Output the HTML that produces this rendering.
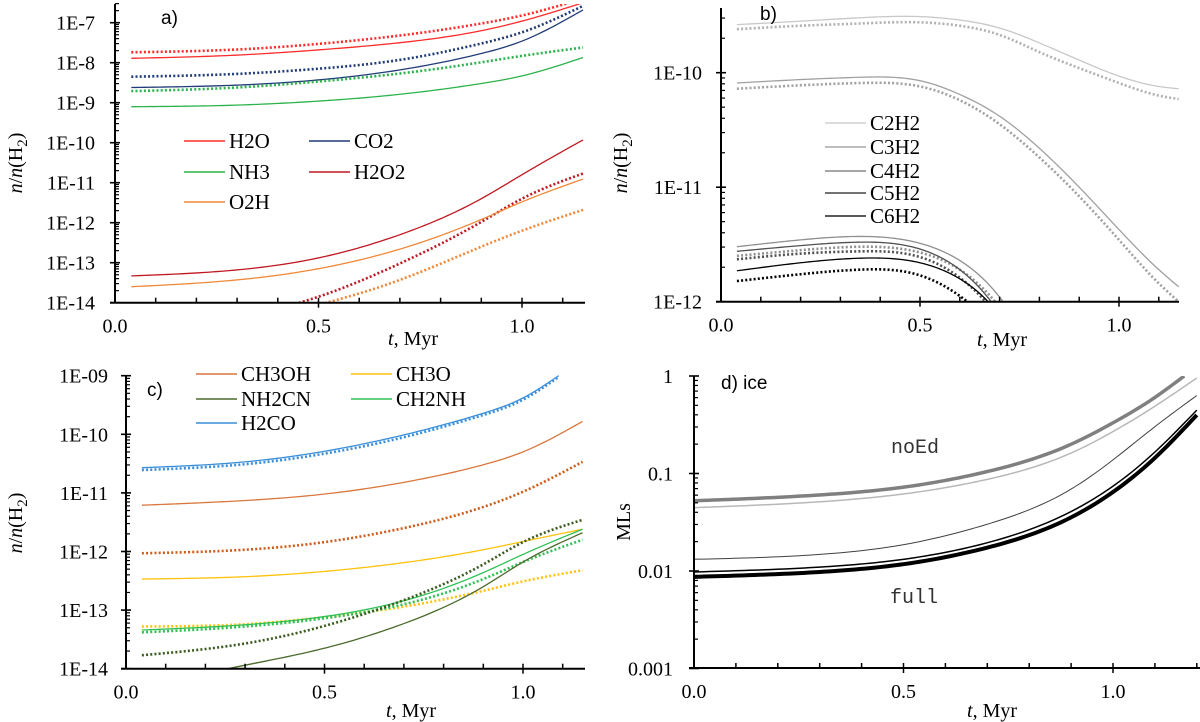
<!DOCTYPE html>
<html><head><meta charset="utf-8">
<style>
html,body{margin:0;padding:0;background:#fff;}
svg{display:block;}
.tk{font-family:"Liberation Serif",serif;font-size:20px;fill:#000;}
.lg{font-family:"Liberation Serif",serif;font-size:21px;fill:#000;}
.pl{font-family:"Liberation Sans",sans-serif;font-size:19px;fill:#000;}
.mono{font-family:"Liberation Mono",monospace;font-size:20px;fill:#333;}
</style></head>
<body>
<svg id="fig" width="1200" height="722" viewBox="0 0 1200 722" xmlns="http://www.w3.org/2000/svg"></svg>
<script>
// ---------- Panel a data (log10 abundance) ----------
const tA = [0.04, 0.3, 0.5, 0.7, 0.9, 1.0, 1.15];
const aH2O = [-7.89, -7.81, -7.68, -7.50, -7.2, -6.96, -6.5];
const aH2Od = [-7.74, -7.67, -7.53, -7.32, -7.02, -6.82, -6.4];
const aCO2 = [-8.62, -8.56, -8.43, -8.18, -7.77, -7.46, -6.68];
const aCO2d = [-8.35, -8.28, -8.15, -7.93, -7.52, -7.24, -6.58];
const aNH3 = [-9.1, -9.06, -8.96, -8.79, -8.52, -8.33, -7.87];
const aNH3d = [-8.71, -8.62, -8.47, -8.27, -7.99, -7.83, -7.62];
const aH2O2 = [-13.33, -13.18, -12.88, -12.3, -11.4, -10.8, -9.93];
const aH2O2d = [-15.0, -14.4, -13.85, -13.02, -11.98, -11.4, -10.77];
const aO2H = [-13.6, -13.43, -13.15, -12.66, -11.92, -11.48, -10.91];
const aO2Hd = [-15.0, -14.5, -14.05, -13.43, -12.6, -12.2, -11.68];
const aTicks = ["1E-7","1E-8","1E-9","1E-10","1E-11","1E-12","1E-13","1E-14"];
// ---------- Panel b data ----------
const tB = [0.04, 0.2, 0.35, 0.5, 0.6, 0.7, 0.8, 0.9, 1.0, 1.1, 1.15];
const bC2H2 = [-9.58, -9.55, -9.52, -9.51, -9.54, -9.61, -9.74, -9.89, -10.03, -10.12, -10.14];
const bC2H2d = [-9.62, -9.59, -9.57, -9.56, -9.59, -9.67, -9.82, -9.96, -10.09, -10.2, -10.23];
const bC3H2 = [-10.09, -10.06, -10.04, -10.07, -10.19, -10.38, -10.66, -11.0, -11.37, -11.72, -11.87];
const bC3H2d = [-10.14, -10.11, -10.09, -10.12, -10.24, -10.45, -10.74, -11.08, -11.46, -11.84, -12.0];
const tB2 = [0.04, 0.2, 0.35, 0.5, 0.6, 0.7, 0.8];
const bC4H2 = [-11.52, -11.46, -11.43, -11.49, -11.64, -11.96, -12.5];
const bC4H2d = [-11.6, -11.55, -11.52, -11.57, -11.72, -12.05, -12.6];
const bC5H2 = [-11.56, -11.51, -11.48, -11.54, -11.72, -12.1, -12.7];
const bC5H2d = [-11.63, -11.58, -11.56, -11.61, -11.79, -12.15, -12.7];
const bC6H2 = [-11.73, -11.66, -11.62, -11.66, -11.8, -12.12, -12.7];
const bC6H2d = [-11.82, -11.76, -11.72, -11.77, -11.95, -12.3, -12.9];
const bTicks = ["1E-10","1E-11","1E-12"];
// ---------- Panel c data ----------
const tC = [0.04, 0.3, 0.5, 0.7, 0.9, 1.0, 1.15];
const tC2 = [0.04, 0.3, 0.5, 0.7, 0.9, 1.0, 1.09];
const cH2CO = [-10.57, -10.47, -10.29, -10.01, -9.64, -9.38, -9.0];
const cH2COd = [-10.61, -10.51, -10.33, -10.05, -9.67, -9.41, -9.02];
const cCH3OH = [-11.21, -11.13, -11.02, -10.82, -10.52, -10.3, -9.78];
const cCH3OHd = [-12.03, -11.97, -11.84, -11.6, -11.24, -10.98, -10.47];
const cCH3O = [-12.47, -12.43, -12.34, -12.19, -11.97, -11.83, -11.62];
const cCH3Od = [-13.28, -13.24, -13.12, -12.94, -12.67, -12.51, -12.32];
const cCH2NH = [-13.34, -13.25, -13.11, -12.84, -12.36, -12.05, -11.62];
const cCH2NHd = [-13.38, -13.28, -13.14, -12.9, -12.47, -12.18, -11.8];
const cNH2CN = [-14.3, -13.94, -13.65, -13.23, -12.6, -12.18, -11.68];
const cNH2CNd = [-13.77, -13.57, -13.27, -12.83, -12.22, -11.84, -11.46];
const cTicks = ["1E-09","1E-10","1E-11","1E-12","1E-13","1E-14"];
// ---------- Panel d data (log10 MLs) ----------
const tD = [0.0, 0.3, 0.5, 0.7, 0.9, 1.0, 1.1, 1.2];
const tDg = [0.0, 0.3, 0.5, 0.7, 0.9, 1.0, 1.1, 1.17];
const dNoEdThick = [-1.28, -1.22, -1.14, -0.98, -0.70, -0.48, -0.22, 0.0];
const dNoEdThin = [-1.35, -1.29, -1.21, -1.06, -0.79, -0.57, -0.31, -0.02];
const dMid = [-1.88, -1.83, -1.73, -1.52, -1.16, -0.86, -0.52, -0.2];
const dFullThin = [-2.01, -1.96, -1.88, -1.71, -1.39, -1.13, -0.78, -0.35];
const dFullThick = [-2.06, -2.01, -1.93, -1.76, -1.45, -1.19, -0.84, -0.4];
const dTicks = ["1","0.1","0.01","0.001"];
const xTicks = ["0.0","0.5","1.0"];

const NS = "http://www.w3.org/2000/svg";
const fig = document.getElementById('fig');
function mk(tag, attrs, parent){ const e=document.createElementNS(NS,tag); for(const k in attrs) e.setAttribute(k,attrs[k]); (parent||fig).appendChild(e); return e; }

// natural cubic spline (C2 smooth)
function interp(xs, ys){
  const n=xs.length, h=[];
  for(let i=0;i<n-1;i++) h.push(xs[i+1]-xs[i]);
  const a=new Array(n).fill(0), b=new Array(n).fill(1), c=new Array(n).fill(0), r=new Array(n).fill(0);
  for(let i=1;i<n-1;i++){
    a[i]=h[i-1]; b[i]=2*(h[i-1]+h[i]); c[i]=h[i];
    r[i]=6*((ys[i+1]-ys[i])/h[i]-(ys[i]-ys[i-1])/h[i-1]);
  }
  // Thomas algorithm
  const cp=new Array(n).fill(0), dp=new Array(n).fill(0), M=new Array(n).fill(0);
  cp[0]=c[0]/b[0]; dp[0]=r[0]/b[0];
  for(let i=1;i<n;i++){ const den=b[i]-a[i]*cp[i-1]; cp[i]=c[i]/den; dp[i]=(r[i]-a[i]*dp[i-1])/den; }
  M[n-1]=dp[n-1];
  for(let i=n-2;i>=0;i--) M[i]=dp[i]-cp[i]*M[i+1];
  return x=>{
    let i=0; while(i<n-2 && x>xs[i+1]) i++;
    const hi=h[i], A=(xs[i+1]-x)/hi, B=(x-xs[i])/hi;
    return A*ys[i]+B*ys[i+1]+((A*A*A-A)*M[i]+(B*B*B-B)*M[i+1])*hi*hi/6;
  };
}

function panel(cfg){
  const g = mk('g',{});
  
  
  const sx = t => cfg.x0 + t*cfg.px;
  const sy = v => cfg.y0 - (v - cfg.v0)*cfg.py;
  const cid = cfg.name+'-clip';
  const cp = mk('clipPath',{id:cid},g);
  mk('rect',{x:cfg.x0,y:cfg.top,width:cfg.xEnd-cfg.x0+4,height:cfg.yBot-cfg.top},cp);
  const sg = mk('g',{'clip-path':`url(#${cid})`},g);
  cfg.series.forEach(s=>{
    const f = interp(s.t, s.v);
    const t0=s.t[0], t1=s.t[s.t.length-1], N=100;
    let d='';
    for(let k=0;k<=N;k++){ const t=t0+(t1-t0)*k/N; d+=(k?' L':'M')+sx(t).toFixed(2)+','+sy(f(t)).toFixed(2); }
    const p = mk('path',{d:d,fill:'none',stroke:s.c,'stroke-width':s.w||1.3,'stroke-linejoin':'round'},sg);
    if(s.dot){ p.setAttribute('stroke-dasharray','2 2.2'); p.setAttribute('stroke-width', s.w||2.6); }
    
    
  });
  const ax = mk('g',{stroke:'#000','stroke-width':2},g);
  
  
  mk('line',{x1:cfg.x0,y1:cfg.top,x2:cfg.x0,y2:cfg.yBot},ax);
  mk('line',{x1:cfg.x0-5,y1:cfg.yBot,x2:cfg.xEnd,y2:cfg.yBot},ax);
  for(let k=1;k<=Math.round(cfg.tMax*10);k++){
    const t=k/10, major=(k%5===0);
    if(sx(t)>cfg.xEnd+1) continue;
    mk('line',{x1:sx(t),y1:cfg.yBot+(major?5:0),x2:sx(t),y2:cfg.yBot-5,'stroke-width':1.5},ax);
  }
  xTicks.forEach((lab,i)=>{
    const tx=mk('text',{x:sx(i*0.5),y:cfg.yBot+30,'text-anchor':'middle',class:'tk'},g); tx.textContent=lab;
     
  });
  cfg.ticks.forEach((lab,i)=>{
    const y = sy(cfg.tickTop - i);
    mk('line',{x1:cfg.x0-5,y1:y,x2:cfg.x0+5,y2:y,'stroke-width':1.6},ax);
    const tx=mk('text',{x:cfg.labR,y:y+7,'text-anchor':'end',class:'tk'},g); tx.textContent=lab;
     
  });
  for(let dec=cfg.tickTop+1; dec>=cfg.tickTop-cfg.ticks.length; dec--){
    for(let m=2;m<=9;m++){
      const y = sy(dec-1+Math.log10(m));
      if(y<cfg.top-0.5||y>cfg.yBot) continue;
      mk('line',{x1:cfg.x0,y1:y,x2:cfg.x0+4,y2:y,'stroke-width':1.2},ax);
    }
  }
  const xt=mk('text',{x:cfg.xTitleX,y:cfg.xTitleY,class:'tk','font-size':'22'},g);
  xt.innerHTML='<tspan font-style="italic">t</tspan>, Myr';
   
  const yt=mk('text',{x:0,y:0,class:'tk','font-size':'22','text-anchor':'middle',transform:`translate(${cfg.yTitleX},${cfg.yTitleY}) rotate(-90)`},g);
  if(cfg.ylab==='MLs') yt.textContent='MLs';
  else yt.innerHTML='<tspan font-style="italic">n</tspan>/<tspan font-style="italic">n</tspan>(H<tspan font-size="15" dy="5">2</tspan><tspan dy="-5">)</tspan>';
   
  const pl=mk('text',{x:cfg.plx,y:cfg.ply,class:'pl'},g); pl.textContent=cfg.plabel;
   
  (cfg.legend||[]).forEach(L=>{
    const lg=mk('g',{},g);
     
    mk('line',{x1:L.x,y1:L.y,x2:L.x+41,y2:L.y,stroke:L.c,'stroke-width':1.6},lg);
    const tx=mk('text',{x:L.x+45,y:L.y+7,class:'lg'},lg); tx.textContent=L.t;
  });
}

// Panel a
panel({name:'panel-a',x0:115,px:407,xEnd:585,tMax:1.15,y0:22.7,v0:-7,py:40,top:4,yBot:302.7,
  ticks:aTicks,tickTop:-7,labR:95,plabel:'a)',plx:161,ply:24,xTitleX:388,xTitleY:345,yTitleX:22,yTitleY:163,
  series:[
    {n:'h2o-line',t:tA,v:aH2O,c:'#ff2b2b'},{n:'h2o-dotted',t:tA,v:aH2Od,c:'#ff2b2b',dot:1},
    {n:'co2-line',t:tA,v:aCO2,c:'#203c78'},{n:'co2-dotted',t:tA,v:aCO2d,c:'#203c78',dot:1},
    {n:'nh3-line',t:tA,v:aNH3,c:'#2cb34c'},{n:'nh3-dotted',t:tA,v:aNH3d,c:'#2cb34c',dot:1},
    {n:'h2o2-line',t:tA,v:aH2O2,c:'#c01820'},{n:'h2o2-dotted',t:tA,v:aH2O2d,c:'#c01820',dot:1},
    {n:'o2h-line',t:tA,v:aO2H,c:'#f08838'},{n:'o2h-dotted',t:tA,v:aO2Hd,c:'#f08838',dot:1}],
  legend:[{x:184,y:141,c:'#ff2b2b',t:'H2O'},{x:309,y:141,c:'#203c78',t:'CO2'},
    {x:184,y:172,c:'#2cb34c',t:'NH3'},{x:309,y:172,c:'#c01820',t:'H2O2'},
    {x:184,y:202,c:'#f08838',t:'O2H'}]});

// Panel b
panel({name:'panel-b',x0:721,px:398,xEnd:1179,tMax:1.15,y0:72.7,v0:-10,py:114.5,top:8,yBot:301.7,
  ticks:bTicks,tickTop:-10,labR:702,plabel:'b)',plx:760,ply:20,xTitleX:977,xTitleY:346,yTitleX:627,yTitleY:163,
  series:[
    {n:'c2h2-line',t:tB,v:bC2H2,c:'#c8c8c8'},{n:'c2h2-dotted',t:tB,v:bC2H2d,c:'#b0b0b0',dot:1},
    {n:'c3h2-line',t:tB,v:bC3H2,c:'#a0a0a0'},{n:'c3h2-dotted',t:tB,v:bC3H2d,c:'#a0a0a0',dot:1},
    {n:'c4h2-line',t:tB2,v:bC4H2,c:'#909090'},{n:'c4h2-dotted',t:tB2,v:bC4H2d,c:'#909090',dot:1},
    {n:'c5h2-line',t:tB2,v:bC5H2,c:'#505050'},{n:'c5h2-dotted',t:tB2,v:bC5H2d,c:'#505050',dot:1},
    {n:'c6h2-line',t:tB2,v:bC6H2,c:'#000000'},{n:'c6h2-dotted',t:tB2,v:bC6H2d,c:'#000000',dot:1}],
  legend:[{x:825,y:123,c:'#d0d0d0',t:'C2H2'},{x:825,y:147,c:'#a8a8a8',t:'C3H2'},
    {x:825,y:171,c:'#888',t:'C4H2'},{x:825,y:193,c:'#444',t:'C5H2'},{x:825,y:216,c:'#222',t:'C6H2'}]});

// Panel c
panel({name:'panel-c',x0:126,px:397,xEnd:585,tMax:1.15,y0:375.7,v0:-9,py:58.6,top:375,yBot:668.7,
  ticks:cTicks,tickTop:-9,labR:108,plabel:'c)',plx:147,ply:396,xTitleX:386,xTitleY:717,yTitleX:22,yTitleY:523,
  series:[
    {n:'h2co-line',t:tC2,v:cH2CO,c:'#3b8fd9'},{n:'h2co-dotted',t:tC2,v:cH2COd,c:'#3b8fd9',dot:1},
    {n:'ch3oh-line',t:tC,v:cCH3OH,c:'#d9773d'},{n:'ch3oh-dotted',t:tC,v:cCH3OHd,c:'#d05a18',dot:1},
    {n:'ch3o-line',t:tC,v:cCH3O,c:'#ffc20e'},{n:'ch3o-dotted',t:tC,v:cCH3Od,c:'#ffc20e',dot:1},
    {n:'ch2nh-line',t:tC,v:cCH2NH,c:'#2fc055'},{n:'ch2nh-dotted',t:tC,v:cCH2NHd,c:'#2fc055',dot:1},
    {n:'nh2cn-line',t:tC,v:cNH2CN,c:'#4c6a2c'},{n:'nh2cn-dotted',t:tC,v:cNH2CNd,c:'#3b5a20',dot:1}],
  legend:[{x:196,y:374,c:'#d9773d',t:'CH3OH'},{x:351,y:374,c:'#ffc20e',t:'CH3O'},
    {x:196,y:399,c:'#4c6a2c',t:'NH2CN'},{x:351,y:399,c:'#2fc055',t:'CH2NH'},
    {x:196,y:423,c:'#3b8fd9',t:'H2CO'}]});

// Panel d
panel({name:'panel-d',x0:694,px:419,xEnd:1200,tMax:1.2,y0:376,v0:0,py:97.5,top:376,yBot:668,
  ticks:dTicks,tickTop:0,labR:673,plabel:'d) ice',plx:721,ply:389,xTitleX:967,xTitleY:717,yTitleX:630,yTitleY:522,ylab:'MLs',
  series:[
    {n:'noed-thick',t:tDg,v:dNoEdThick,c:'#808080',w:3.5},
    {n:'noed-thin',t:tD,v:dNoEdThin,c:'#b8b8b8',w:1.5},
    {n:'mid-thin',t:tD,v:dMid,c:'#404040',w:1},
    {n:'full-thin',t:tD,v:dFullThin,c:'#000',w:1.5},
    {n:'full-thick',t:tD,v:dFullThick,c:'#000',w:4}]});

const t1=mk('text',{x:891,y:453,class:'mono'}); t1.textContent='noEd';
 
const t2=mk('text',{x:890,y:603,class:'mono'}); t2.textContent='full';
 
</script>
</body></html>
